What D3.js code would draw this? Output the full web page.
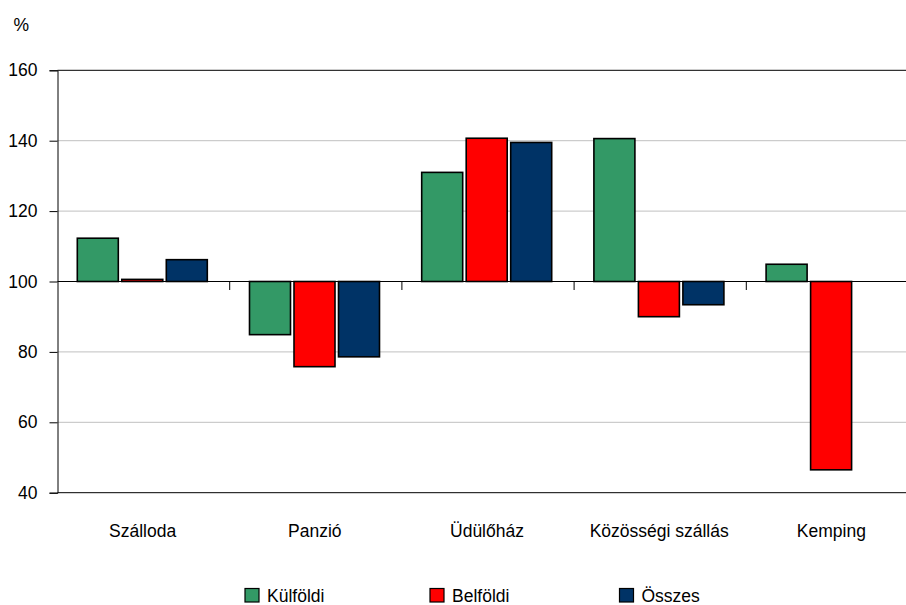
<!DOCTYPE html>
<html>
<head>
<meta charset="utf-8">
<script src="https://cdn.jsdelivr.net/npm/d3@7"></script>
<style>
  body { margin: 0; background: #fff; }
  svg { display: block; font-family: "Liberation Sans", Arial, sans-serif; }
</style>
</head>
<body>
<svg id="chart" width="906" height="605"></svg>
<script>
const categories = ["Szálloda", "Panzió", "Üdülőház", "Közösségi szállás", "Kemping"];
const seriesNames = ["Külföldi", "Belföldi", "Összes"];
const kulfoldi = [112.3, 84.9, 131.0, 140.6, 104.9];
const belfoldi = [100.6, 75.8, 140.7, 90.0, 46.5];
const osszes = [106.2, 78.6, 139.5, 93.4, null];
const yTicks = [40, 60, 80, 100, 120, 140, 160];
const colors = ["#339966", "#FF0000", "#003366"];

(function () {
const seriesValues = [kulfoldi, belfoldi, osszes];
const svg = d3.select("#chart");
const pLeft = 57.5, pRight = 918.5, pTop = 70.3, pBottom = 492.7;
const baseVal = 100;

const x = d3.scaleBand().domain(categories).range([pLeft, pRight]).paddingInner(0).paddingOuter(0);
const y = d3.scaleLinear().domain([40, 160]).range([pBottom, pTop]);
const groupW = 130;
const xs = d3.scaleBand().domain(seriesNames).range([-groupW / 2, groupW / 2]).paddingInner(0.0787).paddingOuter(0);

// gridlines
svg.append("g").selectAll("line").data(yTicks.filter(t => t !== 40 && t !== 160 && t !== 100))
  .join("line")
  .attr("x1", pLeft).attr("x2", 906)
  .attr("y1", d => y(d)).attr("y2", d => y(d))
  .attr("stroke", "#c0c0c0").attr("stroke-width", 1);

// plot border top & bottom
[160, 40].forEach(v => {
  svg.append("line").attr("x1", pLeft).attr("x2", 906)
    .attr("y1", y(v)).attr("y2", y(v))
    .attr("stroke", "#000").attr("stroke-width", 1);
});

// bars
const bars = [];
categories.forEach((c, i) => {
  seriesNames.forEach((s, j) => {
    const v = seriesValues[j][i];
    if (v === null || v === undefined) return;
    bars.push({ c, s, v, j });
  });
});
svg.append("g").selectAll("rect").data(bars).join("rect")
  .attr("x", d => x(d.c) + x.bandwidth() / 2 - 1.3 + xs(d.s))
  .attr("width", xs.bandwidth())
  .attr("y", d => Math.min(y(d.v), y(baseVal)))
  .attr("height", d => Math.abs(y(d.v) - y(baseVal)))
  .attr("fill", d => colors[d.j])
  .attr("stroke", "#000").attr("stroke-width", 1.6);

// baseline axis at 100
svg.append("line").attr("x1", pLeft).attr("x2", 906)
  .attr("y1", y(baseVal)).attr("y2", y(baseVal))
  .attr("stroke", "#000").attr("stroke-width", 1);
// category boundary ticks
svg.append("g").selectAll("line").data(categories.slice(1)).join("line")
  .attr("x1", d => x(d)).attr("x2", d => x(d))
  .attr("y1", y(baseVal)).attr("y2", y(baseVal) + 8.5)
  .attr("stroke", "#000").attr("stroke-width", 1);

// y axis
const yAxis = d3.axisLeft(y).tickValues(yTicks).tickSize(8).tickPadding(12).tickFormat(d3.format("d"));
const ya = svg.append("g").attr("transform", `translate(${pLeft},0)`).call(yAxis);
ya.select(".domain").attr("stroke", "#000");
ya.selectAll(".tick line").attr("stroke", "#000");
ya.selectAll(".tick text").attr("font-size", 17.5).attr("fill", "#000")
  .attr("font-family", "Liberation Sans, Arial, sans-serif");

// % label
svg.append("text").attr("x", 13.5).attr("y", 30.5).attr("font-size", 17.5).text("%");

// category labels
svg.append("g").selectAll("text").data(categories).join("text")
  .attr("x", d => x(d) + x.bandwidth() / 2 - 1)
  .attr("y", 537)
  .attr("text-anchor", "middle")
  .attr("font-size", 17.5)
  .text(d => d);

// legend
const legendX = [245, 430, 619.5];
const lg = svg.append("g").selectAll("g").data(seriesNames).join("g")
  .attr("transform", (d, i) => `translate(${legendX[i]},588.5)`);
lg.append("rect").attr("width", 14).attr("height", 13.5)
  .attr("fill", (d, i) => colors[i]).attr("stroke", "#000").attr("stroke-width", 1.2);
lg.append("text").attr("x", 22).attr("y", 13.5).attr("font-size", 17.5).text(d => d);
})();
</script>
</body>
</html>
